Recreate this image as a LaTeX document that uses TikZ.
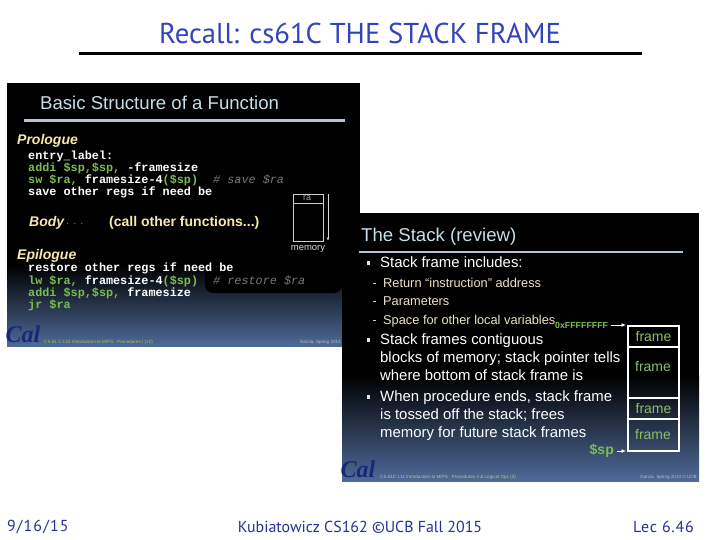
\documentclass[tikz,border=0pt]{standalone}
\usepackage{fontspec}
\usepackage{xcolor}
\setmainfont{Liberation Sans}
\setmonofont{Liberation Mono}
\newfontfamily\headfont{PT Sans}
\newfontfamily\logofont{Liberation Serif}
\usetikzlibrary{
	arrows.meta,
	positioning
}
\definecolor{HeadBlue}{RGB}{51,68,187}
\definecolor{FootBlue}{RGB}{38,50,150}
\definecolor{SlideBlue}{RGB}{78,106,152}
\definecolor{RuleBlue}{RGB}{176,196,214}
\definecolor{TitleIce}{RGB}{198,222,232}
\definecolor{CodeGreen}{RGB}{122,190,80}
\definecolor{FrameGreen}{RGB}{140,190,105}
\definecolor{Cream}{RGB}{248,232,170}
\definecolor{SubCream}{RGB}{236,226,200}
\definecolor{CommentGray}{RGB}{120,120,120}
\definecolor{FootYellow}{RGB}{170,190,90}
\definecolor{LogoBlue}{RGB}{24,40,120}
\tikzset{
	even/.style={text height=1.5ex,text depth=.25ex},
	head/.style={inner sep=0pt,text=HeadBlue,font=\headfont\fontsize{28.7}{28.7}\selectfont},
	foot/.style={inner sep=0pt,text=FootBlue,font=\headfont\fontsize{15.9}{15.9}\selectfont},
	slidetitle/.style={inner sep=0pt,anchor=west,text=TitleIce,font=\fontsize{18.6}{18.6}\selectfont},
	section/.style={inner sep=0pt,even,yshift=-1.5pt,anchor=west,text=Cream,font=\bfseries\itshape\fontsize{14}{14}\selectfont},
	codeline/.style={inner sep=0pt,even,yshift=-0.5pt,anchor=west,text=white,font=\ttfamily\bfseries\fontsize{11.8}{11.8}\selectfont},
	comment/.style={inner sep=0pt,even,yshift=-0.5pt,anchor=west,text=CommentGray,font=\ttfamily\itshape\fontsize{11.8}{11.8}\selectfont},
	bullet/.style={inner sep=0pt,even,yshift=-1.5pt,anchor=west,text=white,font=\fontsize{14.9}{14.9}\selectfont},
	subbullet/.style={inner sep=0pt,even,yshift=-1.5pt,anchor=west,text=SubCream,font=\fontsize{12.8}{12.8}\selectfont},
	tiny/.style={inner sep=0pt,anchor=west,text=FootYellow,font=\fontsize{4.6}{4.6}\selectfont},
	tinyr/.style={inner sep=0pt,anchor=east,text=white!75!black,font=\fontsize{4.6}{4.6}\selectfont},
	logo/.style={inner sep=0pt,text=LogoBlue,font=\logofont\bfseries\itshape\fontsize{24}{24}\selectfont},
	stackbox/.style={draw=white,line width=1.4pt,minimum width=51pt,inner sep=0pt,text=FrameGreen,font=\fontsize{14}{14}\selectfont},
	framelabel/.style={inner sep=0pt,text=FrameGreen,font=\fontsize{14}{14}\selectfont},
	pointer/.style={-{Latex[length=4.5pt,width=4pt]},white,line width=0.9pt,shorten <=3pt}
}
\begin{document}
\begin{tikzpicture}[x=1pt,y=-1pt]
	\useasboundingbox (0,0) rectangle (720,540);
	\fill[white] (0,0) rectangle (720,540);

	\node[head] (title) at (360,33) {Recall: cs61C THE STACK FRAME};
	\fill (79,52) rectangle (642,55.5);

	% first slide
	\fill (7,83) rectangle (360,346);
	\shade[top color=black,bottom color=SlideBlue] (7,265) rectangle (360,346);
	\fill[black,rounded corners=8pt] (205,262) rectangle (342,293);
	\fill[RuleBlue] (24,119.5) rectangle (345,122);
	\node[slidetitle] (basic) at (40,103) {Basic Structure of a Function};

	\node[section] (prologue) at (17,140) {Prologue};
	\node[codeline] (entry) at (28,156) {entry\_label:};
	\node[codeline] (addi) at (28,168) {\textcolor{CodeGreen}{addi \$sp,\$sp,} -framesize};
	\node[codeline] (sw) at (28,180) {\textcolor{CodeGreen}{sw \$ra,} framesize-4\textcolor{CodeGreen}{(\$sp)}};
	\node[comment] (savera) at (213,180) {\# save \$ra};
	\node[codeline] (save) at (28,192) {save other regs if need be};

	\node[section] (body) at (29,222) {Body};
	\node[inner sep=0pt,anchor=west,text=CommentGray,font=\fontsize{11}{11}\selectfont] (dots) at (66,224) {. . .};
	\node[section,font=\bfseries\fontsize{14}{14}\selectfont] (call) at (109,222) {(call other functions...)};

	\node[section] (epilogue) at (17,255) {Epilogue};
	\node[codeline] (restore) at (28,268) {restore other regs if need be};
	\node[codeline] (lw) at (28,281) {\textcolor{CodeGreen}{lw \$ra,} framesize-4\textcolor{CodeGreen}{(\$sp)}};
	\node[comment] (restorera) at (213,281) {\# restore \$ra};
	\node[codeline] (addib) at (28,293) {\textcolor{CodeGreen}{addi \$sp,\$sp,} framesize};
	\node[codeline,text=CodeGreen] (jr) at (28,305) {jr \$ra};

	\node[draw=white!80!black,line width=0.8pt,minimum width=30pt,minimum height=47pt,inner sep=0pt] (memory) at (308,217.5) {};
	\draw[white!80!black,line width=0.8pt] (293,203) -- (323,203);
	\node[inner sep=0pt,text=FrameGreen,font=\fontsize{9}{9}\selectfont] (ra) at (307,198.5) {ra};
	\node[inner sep=0pt,text=white!85!black,font=\fontsize{9.5}{9.5}\selectfont] (memlabel) at (308,249) {memory};
	\coordinate (memtop) at (328,194);
	\coordinate (membot) at (328,241);
	\draw[-{Latex[length=3.5pt]},white!85!black,line width=0.7pt] (memtop) -- (membot);

	\node[logo] (cala) at (23,334) {Cal};
	\node[tiny] (foota) at (44,342) {CS 61 C L10 Introduction to MIPS : Procedures I (10)};
	\node[tinyr] (footb) at (341,342) {Garcia, Spring 2014};

	% second slide
	\fill (342,213) rectangle (699,481);
	\shade[top color=black,bottom color=SlideBlue] (342,375) rectangle (699,481);
	\fill[RuleBlue] (359,250.5) rectangle (683,253);
	\node[slidetitle] (stack) at (361,237) {The Stack (review)};

	\foreach \ypos in {263,340,397}
		\fill[white!90!black] (366.5,\ypos-2) rectangle +(3.5,3.5);
	\foreach \ypos in {283,301,320}
		\fill[white!80!black] (373,\ypos-0.5) rectangle +(3,1.5);

	\node[bullet] (includes) at (380,263) {Stack frame includes:};
	\node[subbullet] (retaddr) at (383,283) {Return “instruction” address};
	\node[subbullet] (params) at (383,301) {Parameters};
	\node[subbullet] (locals) at (383,320) {Space for other local variables};
	\node[bullet] (contig) at (380,340) {Stack frames contiguous};
	\node[bullet] (blocks) at (380,358) {blocks of memory; stack pointer tells};
	\node[bullet] (bottom) at (380,376) {where bottom of stack frame is};
	\node[bullet] (ends) at (380,397) {When procedure ends, stack frame};
	\node[bullet] (tossed) at (380,415) {is tossed off the stack; frees};
	\node[bullet] (future) at (380,433) {memory for future stack frames};

	\node[stackbox,minimum height=21pt] (framea) at (653.5,336.5) {frame};
	\node[stackbox,minimum height=51pt] (frameb) at (653.5,372.5) {};
	\node[framelabel] (framebl) at (653,367) {frame};
	\node[stackbox,minimum height=21pt] (framec) at (653.5,408.5) {frame};
	\node[stackbox,minimum height=32pt] (framed) at (653.5,435) {};
	\node[framelabel] (framedl) at (653,435) {frame};

	\node[inner sep=0pt,anchor=west,text=CodeGreen,font=\bfseries\fontsize{8.8}{8.8}\selectfont] (top) at (555,325) {0xFFFFFFFF};
	\node[inner sep=0pt,anchor=east,text=CodeGreen,font=\bfseries\fontsize{14}{14}\selectfont] (sp) at (614,451) {\$sp};
	\coordinate (topend) at (626,325);
	\coordinate (spend) at (626,451);
	\draw[pointer] (top) -- (topend);
	\draw[pointer] (sp) -- (spend);

	\node[logo] (calb) at (358,469) {Cal};
	\node[tiny,text=FootYellow!80!white] (footc) at (380,477) {CS 61C L11 Introduction to MIPS : Procedures II \& Logical Ops (3)};
	\node[tinyr] (footd) at (697,477) {Garcia, Spring 2014 © UCB};

	\node[foot,anchor=west,font=\headfont\addfontfeature{LetterSpace=7}\fontsize{15.9}{15.9}\selectfont] (date) at (7,527) {9/16/15};
	\node[foot] (author) at (360,527) {Kubiatowicz CS162 ©UCB Fall 2015};
	\node[foot,anchor=east,font=\headfont\addfontfeature{LetterSpace=5}\fontsize{15.9}{15.9}\selectfont] (lec) at (694,527) {Lec 6.46};
\end{tikzpicture}
\end{document}
